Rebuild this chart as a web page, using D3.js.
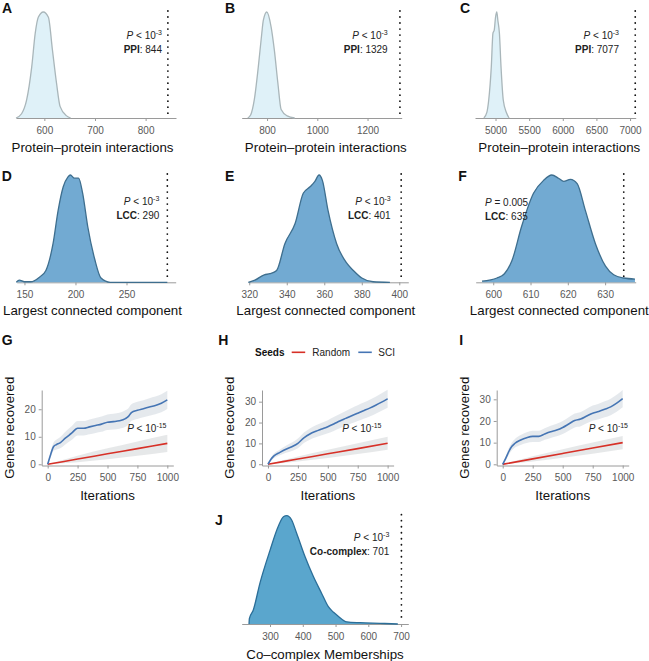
<!DOCTYPE html>
<html><head><meta charset="utf-8">
<script src="https://cdn.jsdelivr.net/npm/d3@7/dist/d3.min.js"></script>
<style>
body{margin:0;background:#fff}
svg text{font-family:"Liberation Sans",Arial,Helvetica,sans-serif}
</style>
</head><body>
<svg id="chart" width="649" height="661"></svg>
<script>
// ---------------- DATA ----------------
// Density curves (x value, relative density)
const ppiA_x = [544, 555, 565, 575, 582, 588, 598, 608, 616, 624, 631, 644, 652];
const ppiA_y = [0, 0.04, 0.17, 0.48, 0.8, 0.95, 1.0, 0.95, 0.64, 0.33, 0.11, 0.02, 0];
const ppiB_x = [723, 735, 749, 765, 779, 785, 799, 816, 829, 843, 856, 880, 910];
const ppiB_y = [0, 0.03, 0.17, 0.48, 0.8, 0.92, 1.0, 0.86, 0.64, 0.33, 0.08, 0.02, 0];
const ppiC_x = [4827, 4870, 4899, 4937, 4962, 4981, 5000, 5019, 5035, 5058, 5082, 5115, 5163, 5202];
const ppiC_y = [0, 0.05, 0.17, 0.48, 0.8, 0.83, 0.95, 1.0, 0.92, 0.8, 0.48, 0.17, 0.05, 0];
const lccD_x = [142, 145, 150, 156, 165, 171, 178, 183, 188, 192.5, 195, 199, 203, 207, 212, 219, 225, 234, 290];
const lccD_y = [0, 0.02, 0.005, 0.005, 0.05, 0.11, 0.36, 0.67, 0.89, 0.98, 1.0, 0.97, 0.97, 0.83, 0.52, 0.21, 0.04, 0.0, 0];
const lccE_x = [319.5, 323, 328, 331, 334.6, 339, 344.5, 348.8, 352.4, 355, 357.2, 359, 362, 366.6, 371.9, 375.5, 380, 386, 395];
const lccE_y = [0, 0.02, 0.07, 0.08, 0.11, 0.36, 0.55, 0.83, 0.89, 0.94, 1.0, 0.95, 0.67, 0.36, 0.18, 0.11, 0.04, 0.005, 0];
const lccF_x = [597, 601, 603, 605, 607.6, 610.8, 613.5, 615.7, 617.5, 618.9, 620.7, 622.5, 624.7, 627.4, 630.1, 632.3, 635, 638];
const lccF_y = [0.01, 0.04, 0.08, 0.2, 0.52, 0.83, 0.95, 1.0, 0.97, 0.94, 0.96, 0.92, 0.67, 0.36, 0.15, 0.07, 0.04, 0.03];
const ccJ_x = [236, 237, 249, 269.5, 300, 325, 341, 351, 366, 381, 407, 432, 458, 478, 493, 509, 534, 575, 636, 690];
const ccJ_y = [0, 0.05, 0.13, 0.38, 0.68, 0.9, 0.99, 1.0, 0.96, 0.84, 0.62, 0.44, 0.28, 0.16, 0.11, 0.07, 0.02, 0.012, 0.006, 0];

// Observed values
const observed = {A: 844, B: 1329, C: 7077, D: 290, E: 401, F: 635, J: 701};

// Tick labels
const ticksA = [600, 700, 800];
const ticksB = [800, 1000, 1200];
const ticksC = [5000, 5500, 6000, 6500, 7000];
const ticksD = [150, 200, 250];
const ticksE = [320, 340, 360, 380, 400];
const ticksF = [600, 610, 620, 630];
const ticksJ = [300, 400, 500, 600, 700];
const ticksIter = [0, 250, 500, 750, 1000];
const ticksGenesG = [0, 10, 20];
const ticksGenesHI = [0, 10, 20, 30];

// Genes recovered vs iterations
const iterG = [0,25,50,75,100,150,200,250,300,350,400,450,500,550,600,650,675,700,750,800,850,900,950,1000];
const sciG = [0,3.6,6.5,7.2,7.7,9.6,11.3,13.1,13.1,13.6,14.1,14.6,15.3,15.5,15.8,16.6,17.4,18.8,19.6,20.2,20.8,21.4,22.2,23.4];
const sciG_se = [0.3,1.0,1.5,1.8,2.0,2.3,2.5,2.6,2.6,2.7,2.7,2.8,2.8,2.9,2.9,3.0,3.0,3.0,3.1,3.1,3.2,3.2,3.3,3.3];
const iterH = [0,25,50,100,150,200,250,300,350,400,450,500,550,600,650,700,750,800,850,900,950,1000];
const sciH = [0,2.4,4.0,5.7,7.2,8.4,10.0,12.7,14.5,15.8,16.9,18.0,19.3,20.7,22.0,23.3,24.5,25.7,26.9,28.3,29.8,31.4];
const sciH_se = [0.3,0.8,1.1,1.4,1.7,2.0,2.3,2.5,2.7,2.9,3.0,3.1,3.3,3.4,3.5,3.7,3.8,3.9,4.0,4.1,4.2,4.3];
const iterI = [0,25,50,75,100,150,200,250,300,350,400,450,500,550,600,650,700,750,800,850,900,950,1000];
const sciI = [0,2.7,5.8,8.2,9.6,11.2,12.3,12.9,12.9,14.0,15.0,15.8,17.0,18.6,20.2,20.9,22.3,23.6,24.4,25.4,26.5,28.2,30.3];
const sciI_se = [0.3,1.0,1.5,1.8,2.0,2.3,2.5,2.6,2.6,2.7,2.8,2.9,3.0,3.1,3.2,3.3,3.4,3.5,3.6,3.7,3.8,3.9,4.0];
const iterRandom = [0, 250, 500, 750, 1000];
const randG = [0, 1.9, 3.8, 5.7, 7.6];
const randH = [0, 2.5, 5.0, 7.5, 10.1];
const randI = [0, 2.5, 5.0, 7.5, 10.0];
const rand_se = [0, 1.2, 2.0, 2.6, 3.1];

const seedLabels = ["Random", "SCI"];

// ---------------- DRAWING ----------------
const svg = d3.select("#chart");
const FONT = '"Liberation Sans",Arial,Helvetica,sans-serif';
const AXIS_COL = "#9a9a9a", TICK_TXT = "#595959";
const RED = "#d73027", BLUE = "#4575b4";
const fmt = d3.format("d");

function panelLabel(t, x, y) {
  svg.append("text").attr("x", x).attr("y", y).attr("font-size", 14)
    .attr("font-weight", "bold").attr("fill", "#111").text(t);
}

function styleAxis(g) {
  g.select(".domain").attr("stroke", AXIS_COL).attr("stroke-width", 1);
  g.selectAll(".tick line").attr("stroke", AXIS_COL);
  g.selectAll(".tick text").attr("fill", TICK_TXT).attr("font-size", 10).attr("font-family", FONT);
}

function pText(sel, exp) {
  sel.append("tspan").attr("font-style", "italic").text("P");
  sel.append("tspan").text(" < 10");
  sel.append("tspan").attr("dy", -4).attr("font-size", 7).text(exp);
}

function densityPanel(o) {
  const x = d3.scaleLinear().domain(o.domain).range([o.x0, o.x1]);
  const y = d3.scaleLinear().domain([0, 1]).range([o.base, o.peak]);
  const pts = o.xs.map((v, i) => [v, o.ys[i]]);
  const ax = svg.append("g").attr("transform", `translate(0,${o.base})`)
    .call(d3.axisBottom(x).tickValues(o.ticks).tickSize(3).tickSizeOuter(0).tickPadding(6).tickFormat(fmt));
  styleAxis(ax);
  const area = d3.area().x(d => x(d[0])).y0(o.base).y1(d => y(d[1])).curve(d3.curveMonotoneX);
  const line = d3.line().x(d => x(d[0])).y(d => y(d[1])).curve(d3.curveMonotoneX);
  svg.append("path").datum(pts).attr("d", area).attr("fill", o.fill);
  svg.append("path").datum(pts).attr("d", line).attr("fill", "none")
    .attr("stroke", o.stroke).attr("stroke-width", 1.3);
  svg.append("line").attr("x1", x(o.obs)).attr("x2", x(o.obs))
    .attr("y1", o.peak - 1).attr("y2", o.base - 4)
    .attr("stroke", "#111").attr("stroke-width", 1.8)
    .attr("stroke-linecap", "round").attr("stroke-dasharray", "0.01,6");
  const t1 = svg.append("text").attr("x", o.ax).attr("y", o.ay).attr("font-size", 10)
    .attr("fill", "#222").attr("text-anchor", o.anchor || "end");
  if (o.pEq) {
    t1.append("tspan").attr("font-style", "italic").text("P");
    t1.append("tspan").text(" = " + o.pEq);
  } else pText(t1, "-3");
  const t2 = svg.append("text").attr("x", o.ax).attr("y", o.ay + 14).attr("font-size", 10)
    .attr("fill", "#222").attr("text-anchor", o.anchor || "end");
  t2.append("tspan").attr("font-weight", "bold").text(o.label);
  t2.append("tspan").text(": " + o.obs);
  svg.append("text").attr("x", o.tx).attr("y", o.ty).attr("text-anchor", "middle")
    .attr("font-size", 13.3).attr("fill", "#111").text(o.title);
}

densityPanel({xs: ppiA_x, ys: ppiA_y, domain: [544, 860], x0: 16, x1: 176, base: 118, peak: 12,
  ticks: ticksA, obs: observed.A, fill: "#dff1f8", stroke: "#a9b6ba", label: "PPI",
  ax: 162, ay: 38.5, title: "Protein\u2013protein interactions", tx: 92.5, ty: 152});
densityPanel({xs: ppiB_x, ys: ppiB_y, domain: [699, 1336], x0: 241.7, x1: 401.7, base: 118, peak: 12,
  ticks: ticksB, obs: observed.B, fill: "#dff1f8", stroke: "#a9b6ba", label: "PPI",
  ax: 387.7, ay: 38.5, title: "Protein\u2013protein interactions", tx: 325.8, ty: 152});
densityPanel({xs: ppiC_x, ys: ppiC_y, domain: [4695, 7084], x0: 475, x1: 635.7, base: 118, peak: 12,
  ticks: ticksC, obs: observed.C, fill: "#dff1f8", stroke: "#a9b6ba", label: "PPI",
  ax: 619, ay: 38.5, title: "Protein\u2013protein interactions", tx: 559.3, ty: 152});
densityPanel({xs: lccD_x, ys: lccD_y, domain: [142.4, 298.2], x0: 16.7, x1: 175.7, base: 282.3, peak: 175,
  ticks: ticksD, obs: observed.D, fill: "#72aad2", stroke: "#3e6e8e", label: "LCC",
  ax: 159.3, ay: 205, title: "Largest connected component", tx: 92.5, ty: 315});
densityPanel({xs: lccE_x, ys: lccE_y, domain: [319.5, 404.8], x0: 248.3, x1: 408.3, base: 282.3, peak: 175,
  ticks: ticksE, obs: observed.E, fill: "#72aad2", stroke: "#3e6e8e", label: "LCC",
  ax: 390.7, ay: 205, title: "Largest connected component", tx: 325.8, ty: 315});
densityPanel({xs: lccF_x, ys: lccF_y, domain: [595.3, 638.2], x0: 475.7, x1: 635.7, base: 282.3, peak: 175,
  ticks: ticksF, obs: observed.F, fill: "#72aad2", stroke: "#3e6e8e", label: "LCC",
  ax: 485, ay: 206, anchor: "start", pEq: "0.005", title: "Largest connected component", tx: 559.3, ty: 315});
densityPanel({xs: ccJ_x, ys: ccJ_y, domain: [213.6, 722], x0: 241.7, x1: 408.3, base: 624, peak: 515.7,
  ticks: ticksJ, obs: observed.J, fill: "#5aa6cd", stroke: "#2b6e98", label: "Co-complex",
  ax: 389.3, ay: 540.7, title: "Co\u2013complex Memberships", tx: 325, ty: 658.5});

function linePanel(o) {
  const x = d3.scaleLinear().domain([-50, 1050]).range([o.x0, o.x1]);
  const y = d3.scaleLinear().domain(o.ydom).range([465.5, 390]);
  const ribbon = d3.area().x(d => x(d[0])).y0(d => y(Math.max(0, d[1] - d[2]))).y1(d => y(d[1] + d[2])).curve(d3.curveMonotoneX);
  const line = d3.line().x(d => x(d[0])).y(d => y(d[1])).curve(d3.curveMonotoneX);
  const rnd = iterRandom.map((v, i) => [v, o.rand[i], rand_se[i]]);
  const sci = o.iter.map((v, i) => [v, o.sci[i], o.se[i]]);
  svg.append("path").datum(rnd).attr("d", ribbon).attr("fill", "#d6d8da").attr("opacity", 0.6);
  svg.append("path").datum(sci).attr("d", ribbon).attr("fill", "#d4dbe1").attr("opacity", 0.6);
  svg.append("path").datum(rnd).attr("d", line).attr("fill", "none").attr("stroke", RED).attr("stroke-width", 1.6);
  svg.append("path").datum(sci).attr("d", line).attr("fill", "none").attr("stroke", BLUE).attr("stroke-width", 1.6);
  const gx = svg.append("g").attr("transform", "translate(0,465.5)")
    .call(d3.axisBottom(x).tickValues(ticksIter).tickSize(3).tickSizeOuter(0).tickPadding(5).tickFormat(fmt));
  styleAxis(gx);
  const gy = svg.append("g").attr("transform", `translate(${o.x0},0)`)
    .call(d3.axisLeft(y).tickValues(o.yticks).tickSize(3).tickSizeOuter(0).tickPadding(3).tickFormat(fmt));
  styleAxis(gy);
  const t = svg.append("text").attr("x", o.px).attr("y", 431.5).attr("font-size", 10)
    .attr("fill", "#222").attr("text-anchor", "end");
  pText(t, "-15");
  svg.append("text").attr("x", (o.x0 + o.x1) / 2).attr("y", 500).attr("text-anchor", "middle")
    .attr("font-size", 13.3).attr("fill", "#111").text("Iterations");
  svg.append("text").attr("transform", `translate(${o.yt},427.7) rotate(-90)`).attr("text-anchor", "middle")
    .attr("font-size", 13.3).attr("fill", "#111").text("Genes recovered");
}

linePanel({x0: 41.7, x1: 173.3, ydom: [-0.44, 27.0], yticks: ticksGenesG, iter: iterG, sci: sciG, se: sciG_se, rand: randG, px: 166.5, yt: 14});
linePanel({x0: 262, x1: 393.6, ydom: [-0.6, 35.6], yticks: ticksGenesHI, iter: iterH, sci: sciH, se: sciH_se, rand: randH, px: 381.5, yt: 234});
linePanel({x0: 496.7, x1: 628.7, ydom: [-0.55, 34.3], yticks: ticksGenesHI, iter: iterI, sci: sciI, se: sciI_se, rand: randI, px: 628, yt: 469.3});

const leg = svg.append("g");
leg.append("text").attr("x", 255).attr("y", 355.5).attr("font-size", 10).attr("font-weight", "bold").attr("fill", "#111").text("Seeds");
[[RED, 291.7, 312.3], [BLUE, 358.3, 378.3]].forEach((c, i) => {
  leg.append("line").attr("x1", c[1]).attr("x2", c[1] + 13.5).attr("y1", 352.3).attr("y2", 352.3)
    .attr("stroke", c[0]).attr("stroke-width", 1.6);
  leg.append("text").attr("x", c[2]).attr("y", 355.5).attr("font-size", 10).attr("fill", "#222").text(seedLabels[i]);
});

panelLabel("A", 2, 12.7); panelLabel("B", 225, 12.7); panelLabel("C", 460, 12.7);
panelLabel("D", 1.7, 181); panelLabel("E", 225, 181); panelLabel("F", 458.3, 181);
panelLabel("G", 1.7, 345); panelLabel("H", 218.3, 345); panelLabel("I", 459.3, 345);
panelLabel("J", 215, 525);
</script>
</body></html>
